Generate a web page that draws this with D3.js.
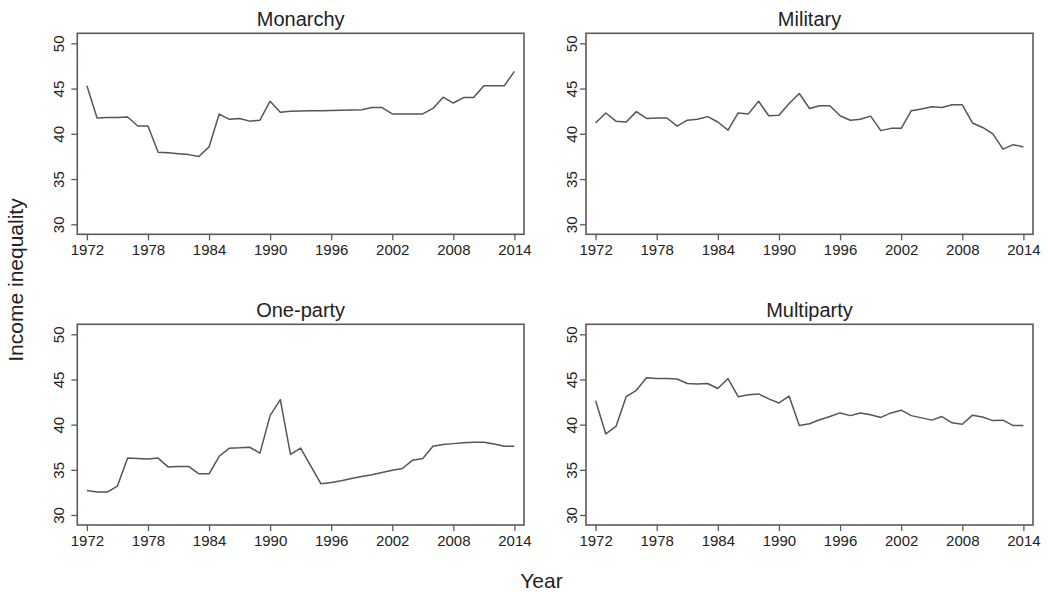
<!DOCTYPE html>
<html>
<head>
<meta charset="utf-8">
<script src="https://cdn.jsdelivr.net/npm/d3@7"></script>
<style>
  html, body { margin: 0; padding: 0; background: #fff; }
  svg { display: block; font-family: "Liberation Sans", Arial, Helvetica, sans-serif; }
</style>
</head>
<body>
<svg id="chart" width="1048" height="592"></svg>
<script>
const years = d3.range(1972, 2015);
const xTicks = [1972, 1978, 1984, 1990, 1996, 2002, 2008, 2014];
const yTicks = [30, 35, 40, 45, 50];
const panelTitles = ["Monarchy", "Military", "One-party", "Multiparty"];

const monarchy = [45.3, 41.75, 41.8, 41.8, 41.85, 40.86, 40.86, 37.96, 37.9, 37.8, 37.7, 37.5, 38.55, 42.18,
  41.6, 41.7, 41.4, 41.5, 43.6, 42.37, 42.5, 42.52, 42.55, 42.56, 42.58, 42.6, 42.62, 42.66, 42.9, 42.9,
  42.2, 42.2, 42.2, 42.2, 42.8, 44.05, 43.4, 44.0, 44.0, 45.3, 45.3, 45.3, 46.9];

const military = [41.2, 42.3, 41.4, 41.3, 42.45, 41.7, 41.75, 41.75, 40.85, 41.5, 41.6, 41.9, 41.3, 40.4,
  42.3, 42.2, 43.6, 42.0, 42.05, 43.35, 44.45, 42.8, 43.1, 43.1, 42.0, 41.5, 41.6, 41.95, 40.35, 40.6,
  40.6, 42.55, 42.75, 43.0, 42.9, 43.2, 43.2, 41.2, 40.7, 40.0, 38.3, 38.8, 38.55];

const oneParty = [32.7, 32.54, 32.54, 33.2, 36.3, 36.25, 36.2, 36.3, 35.3, 35.37, 35.37, 34.56, 34.56, 36.5,
  37.4, 37.43, 37.5, 36.85, 41.0, 42.76, 36.7, 37.4, 35.4, 33.45, 33.6, 33.8, 34.05, 34.25, 34.45, 34.7,
  34.95, 35.15, 36.07, 36.25, 37.6, 37.8, 37.9, 38.0, 38.05, 38.05, 37.85, 37.6, 37.6];

const multiparty = [42.65, 38.97, 39.8, 43.1, 43.8, 45.2, 45.1, 45.1, 45.05, 44.55, 44.5, 44.55, 44.0, 45.1,
  43.1, 43.3, 43.4, 42.85, 42.4, 43.15, 39.9, 40.1, 40.55, 40.9, 41.3, 41.0, 41.3, 41.1, 40.8, 41.3,
  41.6, 41.0, 40.75, 40.5, 40.9, 40.2, 40.05, 41.05, 40.85, 40.45, 40.5, 39.9, 39.9];

const seriesList = [monarchy, military, oneParty, multiparty];

const panels = [
  { left: 77.3, right: 524,  top: 33.3,  bottom: 234.3, labelX: 58 },
  { left: 586,  right: 1033, top: 33.3,  bottom: 234.3, labelX: 571.5 },
  { left: 77.3, right: 524,  top: 324.3, bottom: 525,   labelX: 58 },
  { left: 586,  right: 1033, top: 324.3, bottom: 525,   labelX: 571.5 }
];

const svg = d3.select("#chart");
const ink = "#222";
const frameColor = "#5a5a5a";
const lineColor = "#555";

panels.forEach((p, i) => {
  const x = d3.scaleLinear().domain([1972, 2014]).range([p.left + 9.6, p.right - 9.6]);
  const y = d3.scaleLinear().domain([30, 50]).range([p.bottom - 10, p.top + 10]);
  const g = svg.append("g");

  // frame
  g.append("rect")
    .attr("x", p.left).attr("y", p.top)
    .attr("width", p.right - p.left).attr("height", p.bottom - p.top)
    .attr("fill", "none").attr("stroke", frameColor).attr("stroke-width", 1.6);

  // x axis
  const xAxis = d3.axisBottom(x).tickValues(xTicks).tickFormat(d3.format("d")).tickSize(6).tickPadding(4);
  const gx = g.append("g").attr("transform", `translate(0,${p.bottom})`).call(xAxis);
  gx.select(".domain").remove();
  gx.selectAll(".tick line").attr("stroke", frameColor).attr("stroke-width", 1.3);
  gx.selectAll(".tick text").attr("fill", ink).style("font-size", "15px")
    .attr("font-family", "'Liberation Sans', Arial, sans-serif");

  // y axis
  const yAxis = d3.axisLeft(y).tickValues(yTicks).tickSize(6).tickFormat(d3.format("d"));
  const gy = g.append("g").attr("transform", `translate(${p.left},0)`).call(yAxis);
  gy.select(".domain").remove();
  gy.selectAll(".tick line").attr("stroke", frameColor).attr("stroke-width", 1.3);
  gy.selectAll(".tick text")
    .attr("x", null).attr("dy", null)
    .attr("transform", `translate(${p.labelX - p.left},0) rotate(-90)`)
    .attr("text-anchor", "middle")
    .attr("dominant-baseline", "central")
    .attr("fill", ink).style("font-size", "15px")
    .attr("font-family", "'Liberation Sans', Arial, sans-serif");

  // line
  const line = d3.line().x((d, j) => x(years[j])).y(d => y(d));
  g.append("path").datum(seriesList[i])
    .attr("d", line)
    .attr("fill", "none").attr("stroke", lineColor).attr("stroke-width", 1.5)
    .attr("stroke-linejoin", "round");

  // title
  g.append("text")
    .attr("x", (p.left + p.right) / 2).attr("y", p.top - 7)
    .attr("text-anchor", "middle").attr("fill", ink)
    .style("font-size", "20px").text(panelTitles[i]);
});

// shared axis labels
svg.append("text")
  .attr("transform", "translate(23,280) rotate(-90)")
  .attr("text-anchor", "middle").attr("fill", ink)
  .style("font-size", "21px").text("Income inequality");

svg.append("text")
  .attr("x", 541.5).attr("y", 588)
  .attr("text-anchor", "middle").attr("fill", ink)
  .style("font-size", "21px").text("Year");
</script>
</body>
</html>
